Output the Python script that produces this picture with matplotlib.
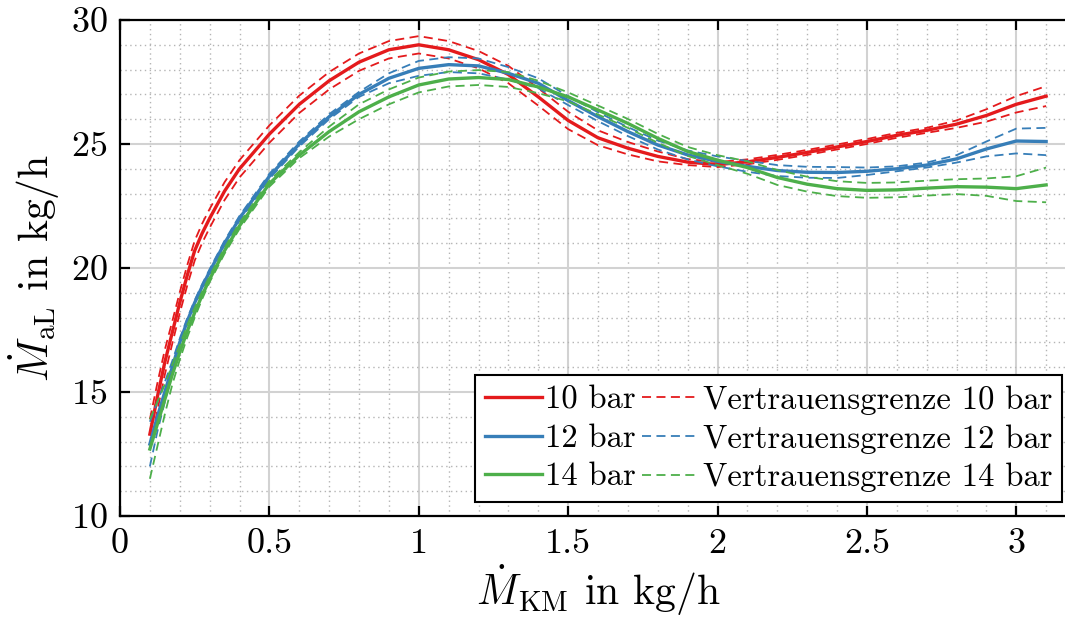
import numpy as np
import matplotlib
matplotlib.use('Agg')
import matplotlib.pyplot as plt
from matplotlib.ticker import MultipleLocator

plt.rcParams['font.family'] = 'cmr10'
plt.rcParams['mathtext.fontset'] = 'cm'
plt.rcParams['axes.formatter.use_mathtext'] = True

# mass flow KM (x) in kg/h
x = [0.1, 0.125, 0.15, 0.175, 0.2, 0.225, 0.25, 0.275, 0.3, 0.35, 0.4,
     0.5, 0.6, 0.7, 0.8, 0.9, 1.0, 1.1, 1.2, 1.3, 1.4,
     1.5, 1.6, 1.7, 1.8, 1.9, 2.0, 2.1, 2.2, 2.3, 2.4,
     2.5, 2.6, 2.7, 2.8, 2.9, 3.0, 3.1]

# fitted curves
y10 = [13.3, 14.8, 16.2, 17.4, 18.6, 19.7, 20.7, 21.4, 22.0, 23.1, 24.0,
       25.4, 26.6, 27.55, 28.3, 28.8, 29.0, 28.8, 28.4, 27.8, 26.9,
       25.95, 25.25, 24.83, 24.5, 24.27, 24.17, 24.28, 24.46, 24.66, 24.88,
       25.1, 25.35, 25.55, 25.8, 26.15, 26.6, 26.93]
y12 = [12.9, 14.0, 15.0, 16.0, 17.0, 17.85, 18.6, 19.25, 19.85, 21.0, 22.0,
       23.7, 25.0, 26.1, 27.0, 27.65, 28.05, 28.2, 28.15, 27.85, 27.45,
       26.75, 26.1, 25.5, 24.96, 24.56, 24.3, 24.1, 23.93, 23.86, 23.85,
       23.9, 24.0, 24.15, 24.4, 24.8, 25.12, 25.1]
y14 = [12.7, 13.7, 14.7, 15.7, 16.6, 17.45, 18.2, 18.9, 19.55, 20.7, 21.7,
       23.4, 24.55, 25.5, 26.3, 26.9, 27.38, 27.62, 27.68, 27.6, 27.3,
       26.9, 26.37, 25.83, 25.23, 24.7, 24.35, 24.05, 23.65, 23.38, 23.2,
       23.13, 23.15, 23.22, 23.28, 23.26, 23.2, 23.35]

# half width of confidence bounds
ci10 = [0.6, 0.55, 0.5, 0.45, 0.42, 0.41, 0.4, 0.39, 0.38, 0.36, 0.35,
        0.35, 0.35, 0.35, 0.35, 0.35, 0.35, 0.35, 0.35, 0.35, 0.35,
        0.35, 0.3, 0.25, 0.2, 0.12, 0.1, 0.1, 0.1, 0.1, 0.1,
        0.1, 0.1, 0.1, 0.15, 0.25, 0.33, 0.4]
ci12 = [0.9, 0.6, 0.4, 0.25, 0.15, 0.12, 0.1, 0.1, 0.1, 0.1, 0.1,
        0.1, 0.1, 0.1, 0.1, 0.2, 0.3, 0.3, 0.3, 0.25, 0.2,
        0.18, 0.18, 0.18, 0.18, 0.18, 0.2, 0.22, 0.22, 0.22, 0.22,
        0.15, 0.1, 0.1, 0.15, 0.3, 0.5, 0.55]
ci14 = [1.2, 0.9, 0.6, 0.4, 0.3, 0.25, 0.2, 0.15, 0.12, 0.12, 0.12,
        0.12, 0.12, 0.2, 0.3, 0.3, 0.3, 0.3, 0.3, 0.3, 0.25,
        0.18, 0.18, 0.18, 0.18, 0.18, 0.2, 0.25, 0.3, 0.3, 0.3,
        0.3, 0.3, 0.3, 0.3, 0.35, 0.5, 0.7]

labels = ['10 bar', '12 bar', '14 bar']
colors = ['#e41a1c', '#377eb8', '#4daf4a']

fig = plt.figure(figsize=(10.65, 6.19), dpi=100)
# right spine lies just outside the picture, like the cropped original
ax = fig.add_axes([120 / 1065, 1 - 516 / 619, (1076 - 120) / 1065, (516 - 20) / 619])

xs = np.array(x)
solid, dashed = [], []
for y, ci, lab, c in zip([y10, y12, y14], [ci10, ci12, ci14], labels, colors):
    y = np.array(y)
    ci = np.array(ci)
    d, = ax.plot(xs, y + ci, '--', color=c, lw=1.3, dashes=(5, 3))
    ax.plot(xs, y - ci, '--', color=c, lw=1.3, dashes=(5, 3))
    s, = ax.plot(xs, y, '-', color=c, lw=2.4)
    solid.append(s)
    dashed.append(d)

ax.set_xlim(0, 3.2)
ax.set_ylim(10, 30)
ax.xaxis.set_minor_locator(MultipleLocator(0.1))
ax.yaxis.set_major_locator(MultipleLocator(5))
ax.yaxis.set_minor_locator(MultipleLocator(1))
ax.set_xticks([0, 0.5, 1, 1.5, 2, 2.5, 3])
ax.set_xticklabels(['0', '0.5', '1', '1.5', '2', '2.5', '3'])

ax.grid(which='major', color='#d2d2d2', lw=1.5, ls='-')
ax.grid(which='minor', color='#b4b4b4', lw=1.0, ls=(0, (1, 2.5)))
ax.set_axisbelow(True)

for sp in ax.spines.values():
    sp.set_linewidth(1.6)
ax.tick_params(which='major', direction='in', length=7, width=1.6,
               top=True, right=True, labelsize=26, pad=9)
ax.tick_params(which='minor', length=0, top=True, right=True)

ax.set_xlabel(r'$\dot{M}_{\mathrm{KM}}$ in kg/h', fontsize=30, labelpad=2)
ax.set_ylabel(r'$\dot{M}_{\mathrm{aL}}$ in kg/h', fontsize=30, labelpad=6)

leg_labels = labels + ['Vertrauensgrenze ' + l for l in labels]
leg = ax.legend(solid + dashed, leg_labels, ncol=2, loc='lower right',
                bbox_to_anchor=(1062 / 1065, (619 - 502) / 619),
                bbox_transform=fig.transFigure, borderaxespad=0,
                fontsize=23.5, handlelength=1.75, handletextpad=0.1,
                columnspacing=0.2, labelspacing=0.28, borderpad=0.3,
                fancybox=False, framealpha=1, edgecolor='black')
leg.get_frame().set_linewidth(1.5)

fig.savefig('out.png', dpi=100)
